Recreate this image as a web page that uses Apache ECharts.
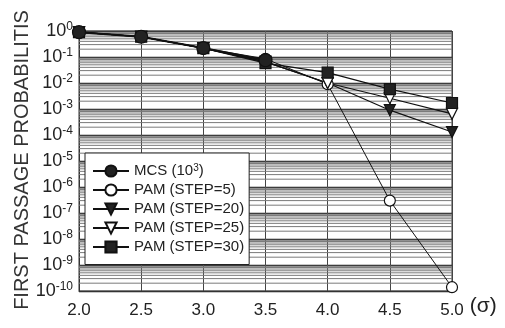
<!DOCTYPE html>
<html>
<head>
<meta charset="utf-8">
<script src="https://cdn.jsdelivr.net/npm/echarts@6/dist/echarts.min.js"></script>
<style>
  html, body { margin: 0; padding: 0; background: #fff; }
  #chart { width: 505px; height: 328px; }
</style>
</head>
<body>
<div id="chart"></div>
<script>
// sigma levels
const sigmas = [2.0, 2.5, 3.0, 3.5, 4.0, 4.5, 5.0]
const xTicks = ['2.0', '2.5', '3.0', '3.5', '4.0', '4.5', '5.0']

// first passage probabilities
const mcs = [0.9, 0.6, 0.22, 0.075]
const pamStep5 = [0.9, 0.6, 0.22, 0.085, 0.009, 3e-7, 1.4e-10]
const pamStep20 = [0.9, 0.6, 0.22, 0.065, 0.01, 9e-4, 1.3e-4]
const pamStep25 = [0.9, 0.6, 0.22, 0.065, 0.01, 2.6e-3, 6.5e-4]
const pamStep30 = [0.9, 0.6, 0.22, 0.058, 0.025, 5.8e-3, 1.7e-3]

const decades = [-10, -9, -8, -7, -6, -5, -4, -3, -2, -1]
const minorMultipliers = [2, 3, 4, 5, 6, 7, 8, 9]

const yTitle = 'FIRST PASSAGE PROBABILITIS'

const font = '"Liberation Sans", Arial, sans-serif'

const pairs = (ys) => ys.map((y, i) => [sigmas[i], y])

// log minor grid values (2..9 x 10^n)
const minorValues = []
decades.forEach((d) => {
  minorMultipliers.forEach((k) => {
    minorValues.push(k * Math.pow(10, d))
  })
})

const lineSeries = (name, data, symbol, filled, opts) => ({
  name,
  type: 'line',
  data: pairs(data),
  symbol,
  symbolSize: 11,
  symbolRotate: symbol === 'triangle' ? 180 : 0,
  lineStyle: { color: '#111', width: 1.2 },
  itemStyle: {
    color: filled ? '#222' : '#fff',
    borderColor: '#111',
    borderWidth: 1.2,
  },
  z: 5,
  ...opts,
})

const ec = echarts.init(document.getElementById('chart'))
ec.setOption({
  animation: false,
  textStyle: { fontFamily: font },
  grid: {
    left: 79,
    right: 53,
    top: 31,
    bottom: 37,
    outerBoundsMode: 'none',
    show: true,
    borderColor: '#333',
    borderWidth: 1,
  },
  graphic: [
    {
      type: 'text',
      x: 22,
      y: 160,
      rotation: Math.PI / 2,
      silent: true,
      style: {
        text: yTitle,
        fill: '#333',
        font: '20px ' + font,
        align: 'center',
        verticalAlign: 'middle',
      },
    },
  ],
  xAxis: {
    type: 'value',
    min: 2,
    max: 5,
    interval: 0.5,
    name: '(σ)',
    nameLocation: 'end',
    nameGap: 2,
    nameTextStyle: {
      fontSize: 21,
      color: '#222',
      verticalAlign: 'top',
      padding: [5, 0, 0, 0],
    },
    axisLine: { lineStyle: { color: '#333' } },
    axisTick: { show: false },
    axisLabel: {
      fontSize: 17,
      color: '#222',
      margin: 11,
      formatter: (v) => xTicks[Math.round((v - 2) / 0.5)],
    },
    splitLine: { show: true, lineStyle: { color: '#444', width: 1 } },
  },
  yAxis: {
    type: 'log',
    logBase: 10,
    min: 1e-10,
    max: 1,
    interval: 1,
    axisLine: { lineStyle: { color: '#333' } },
    axisTick: { show: false },
    axisLabel: {
      margin: 6,
      formatter: (v) => '{b|10}{s|' + Math.round(Math.log10(v)) + '}',
      rich: {
        b: { fontSize: 18, color: '#222', fontFamily: font },
        s: { fontSize: 12, color: '#222', fontFamily: font, verticalAlign: 'top', padding: [0, 0, 9, 0] },
      },
    },
    splitLine: { show: true, lineStyle: { color: '#222', width: 1.3 } },
  },
  legend: {
    left: 85,
    top: 153,
    orient: 'vertical',
    backgroundColor: '#fff',
    borderColor: '#222',
    borderWidth: 1,
    padding: [10, 5, 10, 7],
    itemGap: 4,
    itemWidth: 36,
    itemHeight: 14,
    data: ['MCS', 'PAM (STEP=5)', 'PAM (STEP=20)', 'PAM (STEP=25)', 'PAM (STEP=30)'],
    formatter: (name) => (name === 'MCS' ? 'MCS (10{sup|3})' : name),
    textStyle: {
      fontSize: 15,
      color: '#222',
      fontFamily: font,
      rich: {
        sup: { fontSize: 10, verticalAlign: 'top', padding: [0, 0, 6, 0], color: '#222' },
      },
    },
  },
  series: [
    {
      name: 'minor grid',
      type: 'custom',
      silent: true,
      z: 1,
      data: minorValues.map((v) => [v]),
      encode: { y: 0 },
      renderItem: (params, api) => {
        const v = api.value(0)
        const a = api.coord([2, v])
        const b = api.coord([5, v])
        return {
          type: 'line',
          shape: { x1: a[0], y1: a[1], x2: b[0], y2: b[1] },
          style: { stroke: '#7a7a7a', lineWidth: 1 },
        }
      },
    },
    lineSeries('PAM (STEP=5)', pamStep5, 'circle', false, { lineStyle: { color: '#111', width: 1 } }),
    lineSeries('PAM (STEP=20)', pamStep20, 'triangle', true),
    lineSeries('PAM (STEP=25)', pamStep25, 'triangle', false),
    lineSeries('PAM (STEP=30)', pamStep30, 'rect', true),
    lineSeries('MCS', mcs, 'circle', true, { lineStyle: { color: '#111', width: 2 }, z: 6, symbolSize: 13 }),
  ],
})
</script>
</body>
</html>
